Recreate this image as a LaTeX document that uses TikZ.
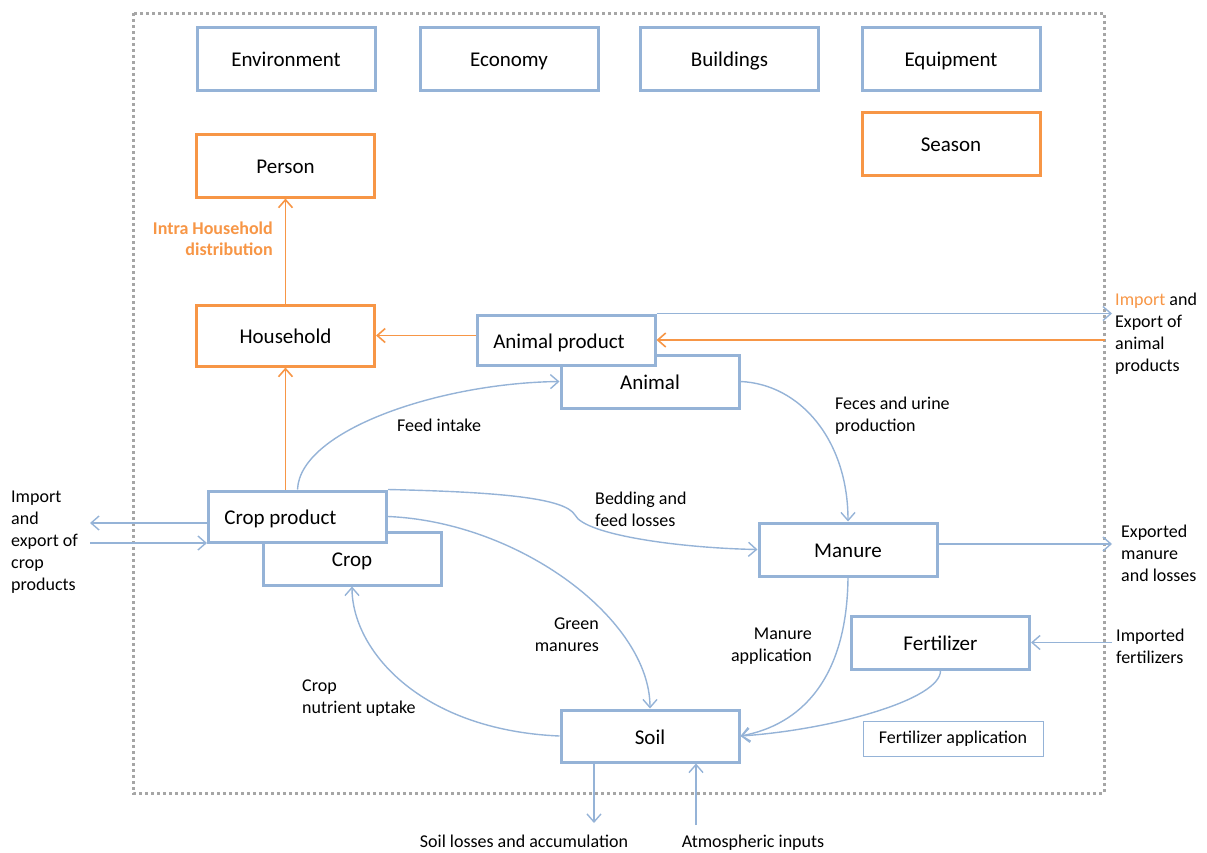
\documentclass[tikz,border=0pt]{standalone}
\usepackage{fontspec}
\setmainfont{Carlito}
\usetikzlibrary{arrows.meta,calc}
\definecolor{boxblue}{RGB}{149,179,215}
\definecolor{hhorange}{RGB}{247,150,70}
\definecolor{framegray}{RGB}{166,166,166}
\begin{document}
\begin{tikzpicture}[x=1pt,y=-1pt,
  basebox/.style={line width=3pt,fill=white,minimum width=178pt,minimum height=63pt,
    inner sep=0pt,text height=16pt,text depth=0pt,font=\fontsize{21}{25}\selectfont},
  bluebox/.style={basebox,draw=boxblue},
  orangebox/.style={basebox,draw=hhorange},
  tip/.style={-{Straight Barb[length=8pt,width=14pt]}},
  bflow/.style={tip,draw=boxblue,line width=1.4pt},
  oflow/.style={tip,draw=hhorange,line width=1.6pt},
  lbl/.style={inner sep=0pt,font=\fontsize{18}{22}\selectfont,text=black}]
\useasboundingbox (0,0) rectangle (1207,852);

% system boundary
\draw[framegray,line width=3pt,dash pattern=on 3pt off 3pt] (133,13) rectangle (1104,793);

% context boxes
\node[bluebox] (env) at (286,58.5) {Environment};
\node[bluebox] (eco) at (509,58.5) {Economy};
\node[bluebox] (bld) at (729.5,58.5) {Buildings};
\node[bluebox] (eqp) at (951,58.5) {Equipment};
\node[orangebox] (sea) at (951,143.5) {Season};

% household side
\node[orangebox] (per) at (285.5,165.5) {Person};
\node[orangebox,minimum height=61pt] (hh) at (285.5,335.5) {Household};

% animals
\node[bluebox,minimum height=53pt] (an) at (650,381.5) {Animal};
\node[bluebox,minimum height=50pt] (ap) at (566,340) {\hspace*{-14pt}Animal product};

% crops
\node[bluebox,minimum height=53pt] (cr) at (352,558.5) {Crop};
\node[bluebox,minimum height=51pt] (cp) at (297.5,516.5) {\hspace*{-34pt}Crop product};

% nutrient pools
\node[bluebox,minimum height=53pt] (man) at (848,549.5) {Manure};
\node[bluebox,minimum height=53pt] (fer) at (940.5,642.5) {Fertilizer};
\node[bluebox,minimum height=52pt] (so) at (650,736) {Soil};
\node[draw=boxblue,line width=1pt,minimum width=180pt,minimum height=35pt,inner sep=0pt,
  font=\fontsize{18}{22}\selectfont] (fapp) at (953,738.5) {Fertilizer application};

% household flows
\draw[oflow] (hh.north) -- (per.south);
\draw[oflow] (cp.north -| hh.south) -- (hh.south);
\draw[oflow] (ap.west |- hh.east) -- (hh.east);

% animal product exchange
\coordinate (aout) at (1112,314);
\coordinate (ain) at (1105,340);
\draw[bflow] (ap.north east) -- (ap.north east -| aout);
\draw[oflow] (ain) -- (ap.east);

% internal flows
\draw[bflow] (cp.north) .. controls (300,430) and (440,383) .. (an.west);
\draw[bflow] (an.east) .. controls (800,384) and (848,440) .. (man.north);
\draw[bflow] (cp.north east) .. controls (500,492) and (565,498) .. (575,515)
  .. controls (585,535) and (680,548) .. (man.west);
\draw[bflow] (cp.east) .. controls (520,522) and (650,620) .. (so.north);
\draw[bflow] (so.west) .. controls (420,730) and (352,650) .. (cr.south);
\draw[bflow] (man.south) .. controls (847,680) and (800,725) .. (so.east);
\draw[bflow] (fer.south) .. controls (941,700) and (830,730) .. (so.east);

% exchanges across the boundary
\coordinate (cpout) at (90,523);
\coordinate (cpin) at (90,543);
\draw[bflow] (cp.west |- cpout) -- (cpout);
\draw[bflow] (cpin) -- (cp.west |- cpin);
\coordinate (mout) at (1112,544);
\draw[bflow] (man.east |- mout) -- (mout);
\coordinate (fin) at (1112,642.5);
\draw[bflow] (fin) -- (fer.east);
\coordinate (sout) at (594,823);
\draw[bflow] (so.south -| sout) -- (sout);
\coordinate (atin) at (696,825);
\draw[bflow] (atin) -- (so.south -| atin);

% flow labels
\node[lbl,anchor=east,align=right,text=hhorange,font=\fontsize{18}{21}\selectfont\bfseries]
  (lintra) at (273,238.5) {Intra Household\\distribution};
\node[lbl,anchor=west,align=left] (limpa) at (1115,333.5)
  {\textcolor{hhorange}{Import} and\\Export of\\animal\\products};
\node[lbl,anchor=west,align=left] (lexpm) at (1121,553) {Exported\\manure\\and losses};
\node[lbl,anchor=west,align=left] (limpf) at (1116,646) {Imported\\fertilizers};
\node[lbl,anchor=west,align=left] (limpc) at (11,542) {Import\\and\\export of\\crop\\products};
\node[lbl,anchor=west] (lfeed) at (397,425) {Feed intake};
\node[lbl,anchor=west,align=left] (lfec) at (835,416) {Feces and urine\\production};
\node[lbl,anchor=west,align=left] (lbed) at (595,509) {Bedding and\\feed losses};
\node[lbl,anchor=east,align=right] (lgreen) at (599,635) {Green\\manures};
\node[lbl,anchor=west,align=left] (lupt) at (302,698) {Crop\\nutrient uptake};
\node[lbl,anchor=east,align=right] (lmapp) at (812,646) {Manure\\application};
\node[lbl,anchor=base] (lsoil) at (524,847) {Soil losses and accumulation};
\node[lbl,anchor=base] (latm) at (753,847) {Atmospheric inputs};
\end{tikzpicture}
\end{document}
